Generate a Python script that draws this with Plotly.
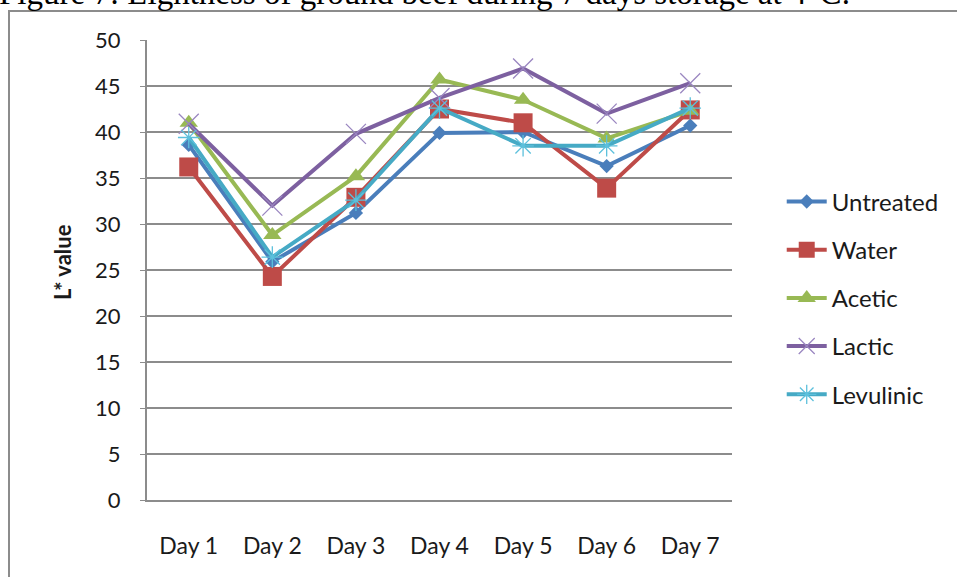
import plotly.graph_objects as go

days = ["Day 1", "Day 2", "Day 3", "Day 4", "Day 5", "Day 6", "Day 7"]
untreated = [38.6, 25.9, 31.2, 39.9, 40.0, 36.3, 40.7]
water = [36.2, 24.3, 32.9, 42.5, 41.0, 33.9, 42.4]
acetic = [41.0, 28.8, 35.2, 45.7, 43.5, 39.3, 42.3]
lactic = [40.9, 32.0, 39.8, 43.7, 46.9, 42.0, 45.3]
levulinic = [39.4, 26.4, 32.6, 42.6, 38.5, 38.5, 42.6]
y_ticks = [0, 5, 10, 15, 20, 25, 30, 35, 40, 45, 50]

series = [
    ("Untreated", untreated, "#4a7ebb", dict(symbol="diamond", size=11)),
    ("Water", water, "#be4b48", dict(symbol="square", size=19)),
    ("Acetic", acetic, "#98b954", dict(symbol="triangle-up", size=16)),
    ("Lactic", lactic, "#7d60a0",
     dict(symbol="x-thin", size=20, line=dict(width=1.3, color="#9a86c0"))),
    ("Levulinic", levulinic, "#46aac5",
     dict(symbol="asterisk", size=18, line=dict(width=1.3, color="#5cc0dc"))),
]

fig = go.Figure()
for name, vals, color, mk in series:
    marker = dict(color=color)
    marker.update(mk)
    fig.add_trace(go.Scatter(
        x=days, y=vals, name=name, mode="lines+markers",
        line=dict(color=color, width=4),
        marker=marker, legendgroup=name,
    ))

font_family = "Lato, 'Open Sans', sans-serif"

fig.update_layout(
    width=957, height=577,
    margin=dict(l=147, r=225, t=40, b=77),
    paper_bgcolor="white", plot_bgcolor="white",
    font=dict(family=font_family, size=22, color="#1a1a1a"),
    showlegend=True,
    legend=dict(
        x=1.085, y=0.697, xanchor="left", yanchor="top",
        font=dict(family=font_family, size=24, color="#1a1a1a"),
        tracegroupgap=14, itemwidth=40, bgcolor="rgba(0,0,0,0)",
    ),
    xaxis=dict(
        showgrid=False, showline=True, linecolor="#8c8c8c", linewidth=1.5,
        ticks="", ticklabelstandoff=25,
        tickfont=dict(family=font_family, size=23, color="#1a1a1a"),
    ),
    yaxis=dict(
        range=[0, 50], tickvals=y_ticks, showgrid=True,
        gridcolor="#8c8c8c", gridwidth=1.5,
        showline=True, linecolor="#8c8c8c", linewidth=2,
        ticks="outside", ticklen=5, tickcolor="#8c8c8c",
        ticklabelstandoff=15, zeroline=False,
        tickfont=dict(family=font_family, size=22, color="#1a1a1a"),
    ),
)

# y-axis title
fig.add_annotation(
    text="<b>L* value</b>", textangle=-90,
    xref="paper", yref="paper", x=(62 - 147) / 585, y=(500 - 262) / 460,
    xanchor="center", yanchor="middle", showarrow=False,
    font=dict(family=font_family, size=22, color="#1a1a1a"),
)

# figure caption above the chart frame
fig.add_annotation(
    text="Figure 7: Lightness of ground beef during 7 days storage at 4°C.",
    xref="paper", yref="paper", x=(-3 - 147) / 585, y=1 + (40 - 13) / 460,
    xanchor="left", yanchor="bottom", showarrow=False,
    font=dict(family="'Liberation Serif', 'Times New Roman', serif",
              size=33, color="#000000"),
)

# chart frame
fig.add_shape(
    type="rect", xref="paper", yref="paper",
    x0=(9 - 147) / 585, x1=(975 - 147) / 585,
    y0=(500 - 600) / 460, y1=1 + (40 - 11) / 460,
    line=dict(color="#8c8c8c", width=2), fillcolor="rgba(0,0,0,0)",
    layer="below",
)

fig.write_html("out.html")
